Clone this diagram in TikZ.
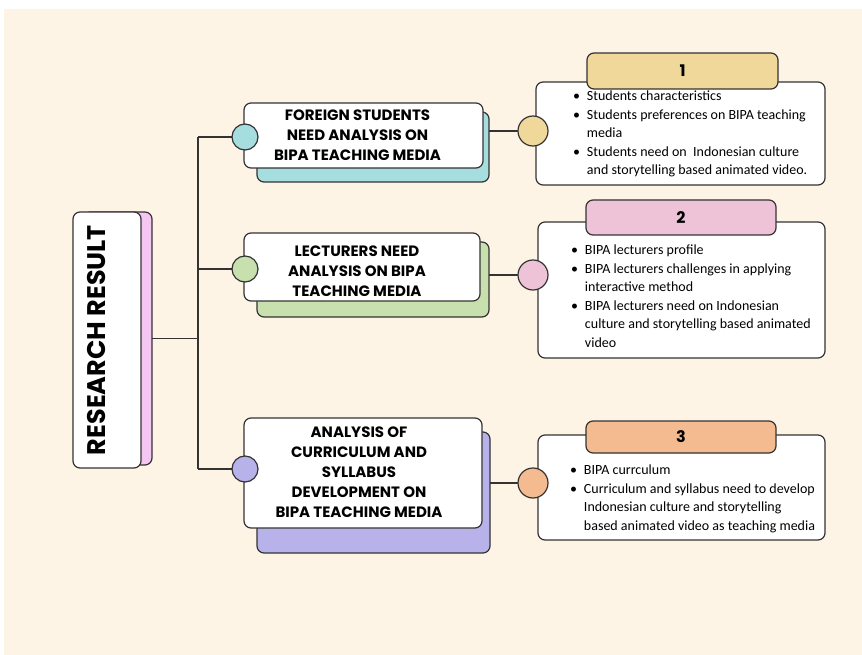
\documentclass[tikz,border=0pt]{standalone}
\usepackage{fontspec}
\setmainfont{Carlito}
\newfontfamily\headfont{Poppins}
\usetikzlibrary{positioning}

\definecolor{cream}{HTML}{FEF4E6}
\definecolor{edge}{HTML}{333333}
\definecolor{rootpink}{HTML}{F4C6F1}
\definecolor{teal}{HTML}{A6DEDF}
\definecolor{leaf}{HTML}{C8E0AE}
\definecolor{lilac}{HTML}{B8B2EA}
\definecolor{sand}{HTML}{F0D89B}
\definecolor{rose}{HTML}{EEC3D7}
\definecolor{peach}{HTML}{F4BA90}

\newcommand{\headtxt}{\headfont\bfseries\fontsize{15}{20}\selectfont}
\newcommand{\listtxt}{\fontsize{14}{18.5}\selectfont}

\begin{document}
\begin{tikzpicture}[x=1pt,y=-1pt,
  every node/.style={inner sep=0pt, outer sep=0pt},
  box/.style={draw=edge, line width=1.2pt, rounded corners=7pt, fill=white},
  shadowbox/.style={draw=edge, line width=1.2pt, rounded corners=7pt, fill=#1},
  head/.style={align=center, font=\headtxt},
  dot/.style={circle, draw=edge, line width=1.2pt, fill=#1, minimum size=26pt},
  bigdot/.style={circle, draw=edge, line width=1.2pt, fill=#1, minimum size=30pt},
  tab/.style={draw=edge, line width=1.2pt, rounded corners=7pt, fill=#1, font=\headfont\bfseries\fontsize{16}{16}\selectfont},
  link/.style={draw=edge, line width=1.2pt}]
\useasboundingbox (0,0) rectangle (862,655);
\fill[cream] (4,9) rectangle (862,655);

% root
\node[shadowbox=rootpink, minimum width=69pt, minimum height=253pt] (rsh) at (117.5,338.5) {};
\node[box, minimum width=68pt, minimum height=256pt] (root) at (107,340) {};
\node[rotate=90, font=\headfont\bfseries\fontsize{25.5}{25.5}\selectfont] (rtxt) at ([xshift=-10pt]root.center) {RESEARCH RESULT};

% trunk
\coordinate (j1) at (198,137);
\coordinate (j3) at (198,469);
\draw[link] (j1) -- (j3);
\draw[link] (rsh.east) -- (rsh.east -| j1);

% left column
\node[shadowbox=teal, minimum width=232pt, minimum height=70pt] (s1) at (373,147) {};
\node[box, minimum width=239pt, minimum height=65pt] (a1) at (363.5,135.5) {};
\node[head] (a1t) at ([xshift=-6pt]a1.center) {FOREIGN STUDENTS\\NEED ANALYSIS ON\\BIPA TEACHING MEDIA};
\node[dot=teal] (c1) at (245,137) {};

\node[shadowbox=leaf, minimum width=232pt, minimum height=75pt] (s2) at (373,279.5) {};
\node[box, minimum width=236pt, minimum height=68pt] (a2) at (362,267) {};
\node[head] (a2t) at ([xshift=-5pt,yshift=-4pt]a2.center) {LECTURERS NEED\\ANALYSIS ON BIPA\\TEACHING MEDIA};
\node[dot=leaf] (c2) at (245,269) {};

\node[shadowbox=lilac, minimum width=233pt, minimum height=121pt] (s3) at (373.5,492.5) {};
\node[box, minimum width=238pt, minimum height=110pt] (a3) at (363,473) {};
\node[head] (a3t) at ([xshift=-4pt,yshift=1pt]a3.center) {ANALYSIS OF\\CURRICULUM AND\\SYLLABUS\\DEVELOPMENT ON\\BIPA TEACHING MEDIA};
\node[dot=lilac] (c3) at (245,469) {};

\draw[link] (j1) -- (c1);
\draw[link] (c2 -| j1) -- (c2);
\draw[link] (j3) -- (c3);

% right column
\node[box, minimum width=289pt, minimum height=103pt] (b1) at (680.5,133.5) {};
\node[tab=sand, minimum width=191pt, minimum height=36pt] (n1) at (682.5,71) {1};
\node[bigdot=sand] (d1) at (533,131) {};
\node[anchor=north west, font=\listtxt] (t1) at (573,88) {%
  \begin{tabular}{@{}c@{\hspace{7pt}}l@{}}
  \textbullet & Students characteristics\\
  \textbullet & Students preferences on BIPA teaching\\
   & media\\
  \textbullet & Students need on\ \ Indonesian culture\\
   & and storytelling based animated video.
  \end{tabular}};

\node[box, minimum width=287pt, minimum height=136pt] (b2) at (681.5,290) {};
\node[tab=rose, minimum width=190pt, minimum height=35pt] (n2) at (681,217.5) {2};
\node[bigdot=rose] (d2) at (533,275) {};
\node[anchor=north west, font=\listtxt] (t2) at (571,242) {%
  \begin{tabular}{@{}c@{\hspace{7pt}}l@{}}
  \textbullet & BIPA lecturers profile\\
  \textbullet & BIPA lecturers challenges in applying\\
   & interactive method\\
  \textbullet & BIPA lecturers need on Indonesian\\
   & culture and storytelling based animated\\
   & video
  \end{tabular}};

\node[box, minimum width=287pt, minimum height=105pt] (b3) at (681.5,487.5) {};
\node[tab=peach, minimum width=190pt, minimum height=32pt] (n3) at (681,437) {3};
\node[bigdot=peach] (d3) at (533,483) {};
\node[anchor=north west, font=\listtxt] (t3) at (570,462) {%
  \begin{tabular}{@{}c@{\hspace{7pt}}l@{}}
  \textbullet & BIPA currculum\\
  \textbullet & Curriculum and syllabus need to develop\\
   & Indonesian culture and storytelling\\
   & based animated video as teaching media
  \end{tabular}};

\draw[link] (d1 -| s1.east) -- (d1);
\draw[link] (d2 -| s2.east) -- (d2);
\draw[link] (d3 -| s3.east) -- (d3);
\end{tikzpicture}
\end{document}
